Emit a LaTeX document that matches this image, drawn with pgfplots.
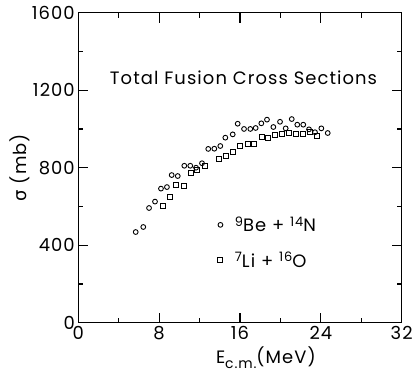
\documentclass[border=0pt]{standalone}
\usepackage{pgfplots}
\pgfplotsset{compat=1.18}
\usepackage{fontspec}
\setmainfont{Poppins}[LetterSpace=6]
\newfontfamily\greekfont{DejaVu Sans}
\newcommand{\lab}{\fontsize{18}{21}\selectfont}
\newcommand{\iso}[1]{\raisebox{0.55ex}{\fontsize{13}{14}\selectfont #1}}

\begin{document}
\begin{tikzpicture}
% fixed frame for the whole figure
\path[use as bounding box] (-78.3bp,-50.3bp) rectangle (337.7bp,322.7bp);
\begin{axis}[
  scale only axis,
  width=323.4bp, height=310bp,
  xmin=0, xmax=32, ymin=0, ymax=1600,
  xtick={0,8,16,24,32}, minor xtick={4,12,20,28},
  ytick={0,400,800,1200,1600}, minor ytick={200,600,1000,1400},
  tick align=inside,
  major tick length=10bp, minor tick length=5bp,
  axis line style={line width=1.4pt},
  every tick/.style={line width=1.2pt, black},
  tick label style={font=\lab},
  /pgf/number format/assume math mode=true,
  /pgf/number format/1000 sep={},
  xlabel={E\raisebox{-0.6ex}{\fontsize{14}{14}\selectfont c.m.}(MeV)},
  xlabel style={font=\lab, at={(axis description cs:0.58,-0.13)}, anchor=base},
  ylabel={{\greekfont σ} (mb)},
  ylabel style={font=\lab, at={(axis description cs:-0.18,0.5)}, anchor=center},
  legend style={draw=none, fill=none, font=\lab,
    at={(axis cs:13.5,569)}, anchor=north west, row sep=15bp,
    /tikz/every odd column/.append style={column sep=10bp}},
  legend cell align=left,
]
% 9Be + 14N
\addplot[only marks, mark=o, mark size=2.4bp, mark options={line width=0.9pt}, black]
 coordinates {
 (5.68,468) (6.43,494) (7.00,592) (7.59,625) (8.18,692) (8.77,700)
 (9.24,762) (9.84,757) (10.49,810) (11.08,810) (11.65,800) (12.24,823)
 (12.86,897) (13.46,898) (14.05,912) (14.55,955) (15.28,972) (15.77,1027)
 (16.40,1000) (17.02,1000) (17.55,1005) (18.11,1029) (18.67,1048) (19.30,1010)
 (19.96,1037) (20.52,1003) (21.12,1051) (21.67,1022) (22.26,1022) (22.83,998)
 (23.42,983) (24.05,1003) (24.68,979)
 };
\addlegendentry{\iso{9}Be + \iso{14}N}
% 7Li + 16O
\addplot[only marks, mark=square, mark size=2.5bp, mark options={line width=0.9pt}, black]
 coordinates {
 (8.38,602) (9.07,650) (9.67,711) (10.46,706) (11.12,773) (11.75,787)
 (12.54,807) (13.92,846) (14.62,862) (15.34,883) (16.03,912) (16.74,925)
 (17.36,925) (18.13,961) (18.72,952) (19.44,971) (20.16,975) (20.82,981)
 (21.51,972) (22.25,972) (22.95,983) (23.60,963)
 };
\addlegendentry{\iso{7}Li + \iso{16}O}
\node[font=\lab, anchor=base] at (axis cs:16.35,1227) {Total Fusion Cross Sections};
\end{axis}
\end{tikzpicture}
\end{document}
